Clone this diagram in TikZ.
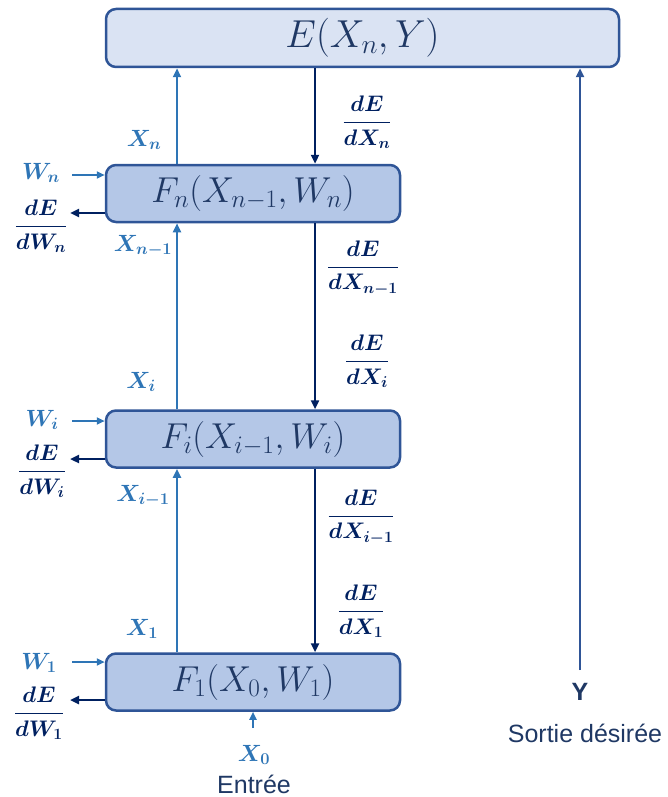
\RequirePackage{fix-cm}
\documentclass[tikz,border=0pt]{standalone}
\usepackage{amsmath}
\usepackage{fontspec}
\newfontfamily\arialfont{Liberation Sans}
\usetikzlibrary{arrows.meta}
\definecolor{efill}{HTML}{DAE3F3}
\definecolor{ffill}{HTML}{B4C7E7}
\definecolor{boxline}{HTML}{2F5597}
\definecolor{upblue}{HTML}{2E75B6}
\definecolor{navy}{HTML}{002060}
\definecolor{txtnavy}{HTML}{1F3864}
\definecolor{yblue}{HTML}{2F5597}
\begin{document}
\begin{tikzpicture}[x=1pt,y=-1pt,
  ebox/.style={draw=boxline, line width=2.5pt, rounded corners=10pt, fill=efill,
    minimum width=513pt, minimum height=58pt, inner sep=0pt, text=txtnavy,
    font=\fontsize{39}{44}\selectfont},
  fbox/.style={draw=boxline, line width=2.5pt, rounded corners=10pt, fill=ffill,
    minimum width=294pt, minimum height=57pt, inner sep=0pt, text=txtnavy,
    font=\fontsize{36}{40}\selectfont},
  uparr/.style={draw=upblue, line width=2.5pt, -{Triangle[length=9pt,width=8pt]}},
  warr/.style={draw=upblue, line width=2.2pt, -{Triangle[length=8pt,width=7pt]}},
  dnarr/.style={draw=navy, line width=2.5pt, -{Triangle[length=9pt,width=8pt]}},
  yarr/.style={draw=yblue, line width=2.5pt, -{Triangle[length=9pt,width=8pt]}},
  bluelab/.style={inner sep=0pt, text=upblue, font=\fontsize{23.5}{27}\selectfont\boldmath},
  navylab/.style={inner sep=0pt, text=navy, font=\fontsize{22.5}{26}\selectfont\boldmath},
  sanslab/.style={inner sep=0pt, text=txtnavy, font=\fontsize{25}{29}\selectfont\arialfont},
]
\useasboundingbox (0,0) rectangle (668,797);

% boxes
\node[ebox] (E) at (362.5,38) {$E(X_n,Y)$};
\node[fbox] (Fn) at (253,193.5) {$F_n(X_{n-1},W_n)$};
\node[fbox] (Fi) at (253,439) {$F_i(X_{i-1},W_i)$};
\node[fbox] (F1) at (253,682) {$F_1(X_0,W_1)$};

% column coordinates
\coordinate (ux) at (177,0);
\coordinate (dx) at (315,0);

% forward (up) arrows
\draw[uparr] (Fn.north -| ux) -- (E.south -| ux);
\draw[uparr] (Fi.north -| ux) -- (Fn.south -| ux);
\draw[uparr] (F1.north -| ux) -- (Fi.south -| ux);

% backward (down) arrows
\draw[dnarr] (E.south -| dx) -- (Fn.north -| dx);
\draw[dnarr] (Fn.south -| dx) -- (Fi.north -| dx);
\draw[dnarr] (Fi.south -| dx) -- (F1.north -| dx);

% input X0
\coordinate (x0s) at (253,728);
\draw[warr] (x0s) -- (x0s |- F1.south);
\node[bluelab] (X0) at (254,755) {$X_0$};
\node[sanslab] (entree) at (254,784) {Entrée};

% desired output Y
\coordinate (ys) at (580,670);
\draw[yarr] (ys) -- (ys |- E.south);
\node[sanslab, font=\fontsize{25}{29}\selectfont\arialfont\bfseries] (Ylab) at (580,692) {Y};
\node[sanslab] (sortie) at (585,733) {Sortie désirée};

% weights arrows
\coordinate (wn) at (72,175);
\coordinate (dwn) at (70,213);
\draw[warr] (wn) -- (wn -| Fn.west);
\draw[dnarr] (Fn.west |- dwn) -- (dwn);
\coordinate (wi) at (72,421);
\coordinate (dwi) at (70,459);
\draw[warr] (wi) -- (wi -| Fi.west);
\draw[dnarr] (Fi.west |- dwi) -- (dwi);
\coordinate (w1) at (72,662);
\coordinate (dw1) at (70,700);
\draw[warr] (w1) -- (w1 -| F1.west);
\draw[dnarr] (F1.west |- dw1) -- (dw1);

% weight labels
\node[bluelab] (Wn) at (41,173) {$W_n$};
\node[navylab] (dWn) at (41,226) {$\dfrac{dE}{dW_n}$};
\node[bluelab] (Wi) at (42,420) {$W_i$};
\node[navylab] (dWi) at (42,471) {$\dfrac{dE}{dW_i}$};
\node[bluelab] (W1) at (39,663) {$W_1$};
\node[navylab] (dW1) at (39,713) {$\dfrac{dE}{dW_1}$};

% forward labels
\node[bluelab] (Xn) at (144,140) {$X_n$};
\node[bluelab] (Xnm) at (143,246) {$X_{n-1}$};
\node[bluelab] (Xi) at (141,382) {$X_i$};
\node[bluelab] (Xim) at (143,496) {$X_{i-1}$};
\node[bluelab] (X1) at (142,629) {$X_1$};

% backward labels
\node[navylab] (dXn) at (367,122) {$\dfrac{dE}{dX_n}$};
\node[navylab] (dXnm) at (363,268) {$\dfrac{dE}{dX_{n-1}}$};
\node[navylab] (dXi) at (367,361) {$\dfrac{dE}{dX_i}$};
\node[navylab] (dXim) at (361,517) {$\dfrac{dE}{dX_{i-1}}$};
\node[navylab] (dX1) at (361,611) {$\dfrac{dE}{dX_1}$};
\end{tikzpicture}
\end{document}
